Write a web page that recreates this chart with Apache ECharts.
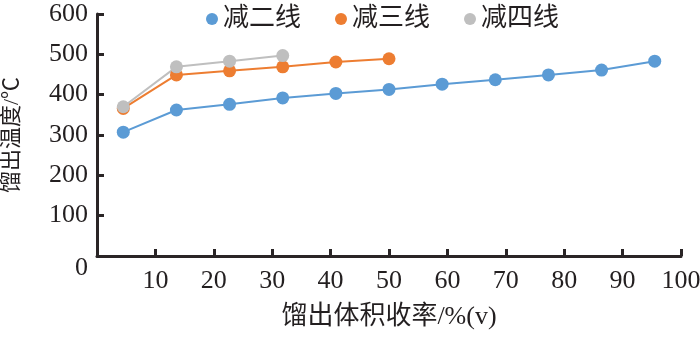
<!DOCTYPE html>
<html><head><meta charset="utf-8">
<script src="https://cdn.jsdelivr.net/npm/echarts@6/dist/echarts.min.js"></script>
<style>html,body{margin:0;padding:0;background:#fff}#c{width:700px;height:357px}</style>
</head><body><div id="c"></div>
<script>
const seriesNames = ['减二线', '减三线', '减四线'];
const xJian2 = [4.5, 13.6, 22.7, 31.8, 40.9, 50.0, 59.1, 68.2, 77.3, 86.4, 95.5];
const yJian2 = [307, 362, 376, 392, 403, 413, 426, 437, 449, 461, 483];
const xJian3 = [4.5, 13.6, 22.7, 31.8, 40.9, 50.0];
const yJian3 = [366, 449, 459, 469, 481, 489];
const xJian4 = [4.5, 13.6, 22.7, 31.8];
const yJian4 = [370, 469, 483, 497];
const xAxisName = '馏出体积收率/%(v)';
const yAxisName = '馏出温度/℃';

const colors = ['#5b9bd5', '#ed7d31', '#bfbfbf'];
const axisColor = '#231f20';
const lineColor = '#2a2526';
const fontSerif = '"Liberation Serif", "Noto Sans CJK SC", serif';
const zip = (xs, ys) => xs.map((x, i) => [x, ys[i]]);

const chart = echarts.init(document.getElementById('c'));
chart.setOption({
  animation: false,
  color: colors,
  grid: { left: 97, right: 19, top: 14, bottom: 101, containLabel: false, outerBoundsMode: 'none' },
  legend: {
    left: 201, top: 1,
    icon: 'circle', itemWidth: 12, itemHeight: 12, itemGap: 34,
    textStyle: { fontFamily: fontSerif, fontSize: 26, color: axisColor },
    data: seriesNames
  },
  xAxis: [{
    type: 'value', min: 0, max: 100, interval: 10,
    name: xAxisName, nameLocation: 'middle', nameGap: 48,
    nameTextStyle: { fontFamily: fontSerif, fontSize: 26, color: axisColor },
    axisLine: { show: true, onZero: false, lineStyle: { color: lineColor, width: 3, type: 'solid' } },
    axisTick: { show: true, inside: true, length: 7, lineStyle: { color: lineColor, width: 3 } },
    axisLabel: { showMinLabel: false, margin: 12, fontFamily: fontSerif, fontSize: 26, color: axisColor },
    splitLine: { show: false }
  }],
  yAxis: [{
    type: 'value', min: 0, max: 600, interval: 100,
    name: yAxisName, nameLocation: 'middle', nameGap: 74,
    nameTextStyle: { fontFamily: fontSerif, fontSize: 22, color: axisColor },
    axisLine: { show: true, onZero: false, lineStyle: { color: lineColor, width: 3, type: 'solid' } },
    axisTick: { show: true, inside: true, length: 7, lineStyle: { color: lineColor, width: 3 } },
    axisLabel: {
      margin: 9, fontFamily: fontSerif, fontSize: 26, color: axisColor,
      formatter: v => v === 0 ? '{z|0}' : String(v),
      rich: { z: { fontFamily: fontSerif, fontSize: 26, color: axisColor, padding: [24, 0, 0, 0] } }
    },
    splitLine: { show: false }
  }],
  series: [
    { name: seriesNames[0], type: 'line', data: zip(xJian2, yJian2), symbol: 'circle', symbolSize: 13, lineStyle: { width: 2 } },
    { name: seriesNames[1], type: 'line', data: zip(xJian3, yJian3), symbol: 'circle', symbolSize: 13, lineStyle: { width: 2 } },
    { name: seriesNames[2], type: 'line', data: zip(xJian4, yJian4), symbol: 'circle', symbolSize: 13, lineStyle: { width: 2 } }
  ]
});
</script></body></html>
